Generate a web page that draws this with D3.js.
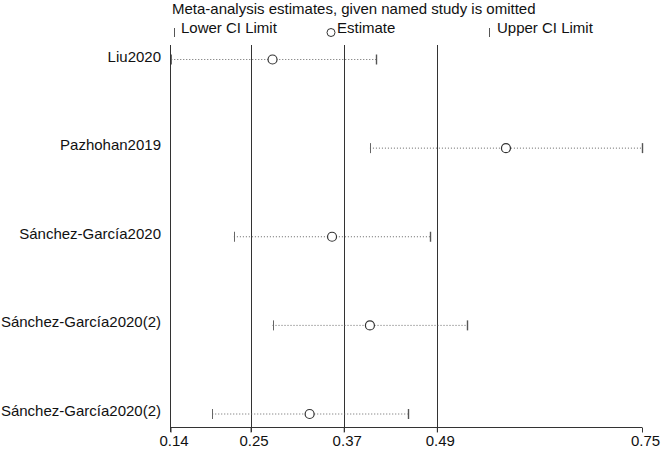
<!DOCTYPE html>
<html>
<head>
<meta charset="utf-8">
<script src="https://cdn.jsdelivr.net/npm/d3@7"></script>
<style>
  body { margin: 0; background: white; }
  text { font-family: "Liberation Sans", Arial, sans-serif; fill: #111; }
</style>
</head>
<body>
<div id="container"></div>
<script>
let w = 662;
let h = 449;

// studies omitted, top to bottom
let studies = ["Liu2020", "Pazhohan2019", "Sánchez-García2020", "Sánchez-García2020(2)", "Sánchez-García2020(2)"];
let estimates = [0.272, 0.574, 0.349, 0.398, 0.320];
let lowerCI = [0.141, 0.398, 0.222, 0.272, 0.194];
let upperCI = [0.406, 0.750, 0.476, 0.523, 0.447];

// overall: lower CI, estimate, upper CI
let overall = [0.2436, 0.3641, 0.4846];

let tickValues = [0.14, 0.2436, 0.3641, 0.4846, 0.75];
let tickLabels = ["0.14", "0.25", "0.37", "0.49", "0.75"];

let xScale = d3.scaleLinear().domain([0.14, 0.75]).range([170.5, 642]);
let yScale = d3.scalePoint().domain(d3.range(studies.length)).range([59.5, 414]);

let plotTop = 45;
let plotBottom = 427;
let fs = "15px";

let viz = d3.select("#container")
  .append("svg")
  .attr("width", w)
  .attr("height", h)
  .style("background-color", "white");

// title + legend
viz.append("text")
  .attr("x", 172)
  .attr("y", 14)
  .attr("font-size", fs)
  .text("Meta-analysis estimates, given named study is omitted");

let legend = viz.append("g").attr("class", "legend");
legend.append("line")
  .attr("x1", 174.5).attr("x2", 174.5).attr("y1", 28).attr("y2", 37)
  .attr("stroke", "#555");
legend.append("text").attr("x", 181).attr("y", 33).attr("font-size", fs).text("Lower CI Limit");
legend.append("circle")
  .attr("cx", 331).attr("cy", 32.5).attr("r", 4)
  .attr("fill", "none").attr("stroke", "#333");
legend.append("text").attr("x", 337).attr("y", 33).attr("font-size", fs).text("Estimate");
legend.append("line")
  .attr("x1", 489.5).attr("x2", 489.5).attr("y1", 28).attr("y2", 37)
  .attr("stroke", "#555");
legend.append("text").attr("x", 497).attr("y", 33).attr("font-size", fs).text("Upper CI Limit");

// left frame line and overall lines
viz.append("line")
  .attr("x1", 170.5).attr("x2", 170.5)
  .attr("y1", plotTop).attr("y2", plotBottom + 5)
  .attr("stroke", "#333");

viz.selectAll(".overallLine").data(overall).enter()
  .append("line")
  .attr("class", "overallLine")
  .attr("x1", d => Math.round(xScale(d)) + 0.5)
  .attr("x2", d => Math.round(xScale(d)) + 0.5)
  .attr("y1", plotTop).attr("y2", plotBottom + 5)
  .attr("stroke", "#333");

// x axis
let xAxis = d3.axisBottom(xScale)
  .tickValues(tickValues)
  .tickFormat((d, i) => tickLabels[i])
  .tickSize(5)
  .tickPadding(3);

let xAxisGroup = viz.append("g")
  .attr("transform", "translate(0," + (plotBottom + 0.5) + ")")
  .call(xAxis);
xAxisGroup.select(".domain").attr("stroke", "#333").attr("d", "M" + xScale(0.14) + ",0H" + xScale(0.75));
xAxisGroup.selectAll(".tick line").attr("stroke", "#333");
xAxisGroup.selectAll(".tick text")
  .attr("font-family", "Liberation Sans, Arial, sans-serif")
  .attr("font-size", fs)
  .attr("fill", "#111")
  .attr("dx", "3");

// study rows
let rows = viz.selectAll(".row").data(studies).enter()
  .append("g")
  .attr("class", "row")
  .attr("transform", (d, i) => "translate(0," + yScale(i) + ")");

rows.append("text")
  .attr("x", 161)
  .attr("y", 2)
  .attr("text-anchor", "end")
  .attr("font-size", fs)
  .text(d => d);

rows.append("line")
  .attr("x1", (d, i) => xScale(lowerCI[i]))
  .attr("x2", (d, i) => xScale(upperCI[i]))
  .attr("y1", 0).attr("y2", 0)
  .attr("stroke", "#666")
  .attr("stroke-dasharray", "1,2");

rows.append("line")
  .attr("x1", (d, i) => Math.round(xScale(lowerCI[i])) + 0.5)
  .attr("x2", (d, i) => Math.round(xScale(lowerCI[i])) + 0.5)
  .attr("y1", -5).attr("y2", 5)
  .attr("stroke", "#666");

rows.append("line")
  .attr("x1", (d, i) => Math.round(xScale(upperCI[i])) + 0.5)
  .attr("x2", (d, i) => Math.round(xScale(upperCI[i])) + 0.5)
  .attr("y1", -5).attr("y2", 5)
  .attr("stroke", "#555")
  .attr("stroke-width", 1.4);

rows.append("circle")
  .attr("cx", (d, i) => xScale(estimates[i]))
  .attr("cy", 0)
  .attr("r", 4.5)
  .attr("fill", "white")
  .attr("stroke", "#333")
  .attr("stroke-width", 1.2);
</script>
</body>
</html>
